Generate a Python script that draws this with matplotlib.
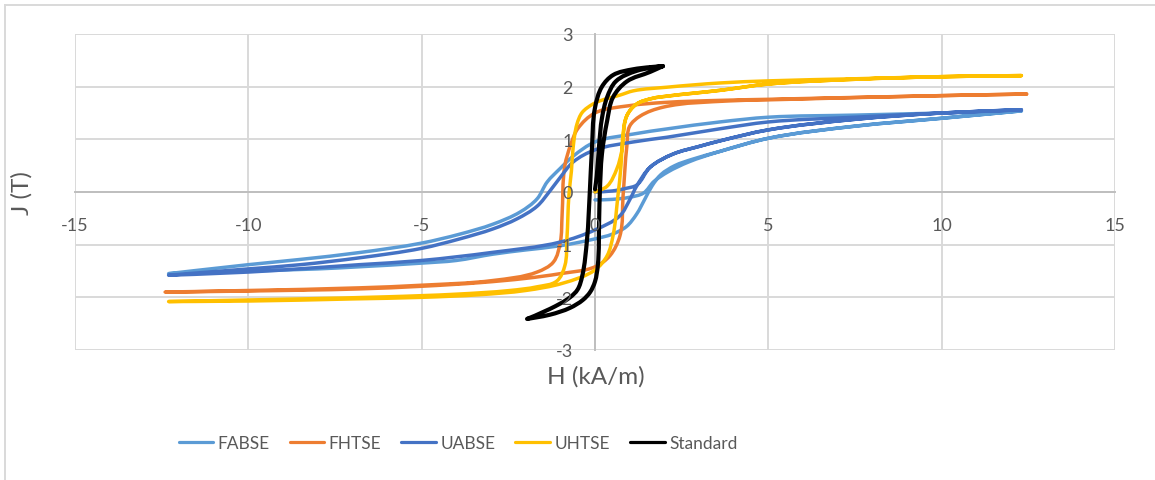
import numpy as np
import matplotlib
matplotlib.use('Agg')
import matplotlib.pyplot as plt
from matplotlib.lines import Line2D
from matplotlib.path import Path
from matplotlib.patches import PathPatch

# H (kA/m) and J (T), series traced as
# initial curve -> descending branch -> ascending branch
FABSE_H = [0.0, 0.5, 1.0, 1.4, 1.7, 2.1, 2.7, 3.6, 5.0, 7.5, 10.0, 12.3,
           10.0, 7.5, 5.0, 3.6, 2.1, 1.1, 0.0, -0.63, -1.0, -1.38, -1.67, -2.16, -2.94, -3.9, -5.0, -6.8, -8.5, -10.0, -12.3,
           -10.0, -8.0, -6.8, -5.0, -4.0, -2.94, -2.0, -1.0, 0.0, 0.5, 0.9, 1.2, 1.45, 1.65, 1.9, 2.3, 2.8, 3.6, 5.0, 7.5, 10.0, 12.3]
FABSE_J = [-0.15, -0.14, -0.10, -0.02, 0.20, 0.38, 0.57, 0.77, 1.02, 1.25, 1.40, 1.54,
           1.50, 1.46, 1.42, 1.33, 1.20, 1.10, 0.95, 0.68, 0.45, 0.19, -0.13, -0.38, -0.61, -0.80, -0.97, -1.15, -1.28, -1.38, -1.55,
           -1.50, -1.46, -1.42, -1.35, -1.30, -1.18, -1.10, -1.02, -0.89, -0.80, -0.66, -0.42, -0.12, 0.12, 0.33, 0.50, 0.62, 0.77, 1.02, 1.25, 1.40, 1.54]

FHTSE_H = [12.45, 10.0, 5.0, 3.6, 2.0, 1.0, 0.0, -0.5, -0.7, -0.87, -0.95, -1.0, -1.2, -1.67, -2.94, -5.0, -6.8, -10.0, -12.4,
           -10.0, -6.8, -5.0, -3.3, -2.0, -1.0, 0.0, 0.43, 0.72, 0.81, 0.92, 1.0, 1.3, 1.96, 3.89, 5.0, 10.0, 12.45]
FHTSE_J = [1.86, 1.83, 1.76, 1.74, 1.70, 1.64, 1.50, 1.20, 0.90, 0.50, -0.45, -0.95, -1.33, -1.52, -1.68, -1.77, -1.82, -1.87, -1.90,
           -1.88, -1.84, -1.79, -1.72, -1.64, -1.55, -1.42, -1.21, -0.83, -0.07, 0.88, 1.25, 1.44, 1.61, 1.73, 1.75, 1.83, 1.86]

UABSE_H = [0.0, 0.5, 0.9, 1.2, 1.59, 2.25, 3.03, 3.6, 5.0, 7.5, 10.0, 12.3,
           10.0, 7.5, 5.0, 3.6, 2.08, 1.1, 0.0, -0.63, -1.0, -1.3, -1.67, -2.25, -2.94, -3.9, -5.0, -6.8, -8.5, -10.0, -12.3,
           -10.0, -6.8, -5.0, -3.0, -1.0, 0.0, 0.72, 1.0, 1.2, 1.59, 2.25, 3.03, 3.6, 5.0, 7.5, 10.0, 12.3]
UABSE_J = [0.0, 0.02, 0.07, 0.13, 0.47, 0.72, 0.87, 0.97, 1.18, 1.38, 1.50, 1.56,
           1.50, 1.42, 1.33, 1.20, 1.04, 0.95, 0.80, 0.57, 0.28, 0.02, -0.27, -0.51, -0.70, -0.89, -1.07, -1.25, -1.38, -1.46, -1.58,
           -1.52, -1.38, -1.30, -1.15, -0.95, -0.72, -0.45, -0.15, 0.11, 0.47, 0.72, 0.87, 0.97, 1.18, 1.38, 1.50, 1.56]

UHTSE_H = [0.0, 0.35, 0.63, 0.78, 0.92, 1.2, 1.67, 2.08, 3.6, 5.0, 7.5, 10.0, 12.3,
           10.0, 7.5, 5.0, 3.6, 2.08, 1.1, 0.72, 0.14, -0.06, -0.37, -0.52, -0.63, -0.68, -0.75, -0.81, -0.87, -1.1, -1.67, -2.45, -4.0, -6.0, -8.5, -10.0, -12.3,
           -10.0, -7.0, -5.0, -3.32, -2.0, -0.92, 0.0, 0.35, 0.52, 0.66, 0.75, 0.8, 0.92, 1.2, 1.67, 2.08, 3.6, 5.0, 7.5, 10.0, 12.3]
UHTSE_J = [0.0, 0.11, 0.44, 0.80, 1.45, 1.67, 1.78, 1.82, 1.93, 2.05, 2.14, 2.19, 2.21,
           2.19, 2.15, 2.11, 2.07, 1.99, 1.92, 1.84, 1.73, 1.67, 1.51, 1.29, 0.85, 0.40, -0.04, -0.89, -1.40, -1.69, -1.80, -1.87, -1.94, -1.99, -2.03, -2.05, -2.08,
           -2.07, -2.03, -2.00, -1.95, -1.87, -1.73, -1.48, -1.21, -0.83, -0.08, 0.50, 1.04, 1.45, 1.67, 1.78, 1.82, 1.93, 2.05, 2.14, 2.19, 2.21]

STANDARD_H = [0.0, 0.05, 0.12, 0.2, 0.35, 0.6, 1.2, 1.96,
              1.1, 0.52, 0.2, 0.0, -0.09, -0.15, -0.23, -0.37, -0.5, -0.72, -1.3, -1.96,
              -1.3, -0.72, -0.35, -0.14, 0.0, 0.08, 0.12, 0.14, 0.2, 0.35, 0.52, 0.92, 1.59, 1.96]
STANDARD_J = [0.05, 0.3, 0.9, 1.4, 1.8, 2.1, 2.3, 2.39,
              2.33, 2.22, 2.0, 1.6, 0.8, 0.0, -0.9, -1.6, -1.85, -2.0, -2.22, -2.41,
              -2.33, -2.2, -2.05, -1.9, -1.7, -1.4, -0.5, 0.0, 0.72, 1.35, 1.8, 2.1, 2.28, 2.39]

SERIES = ['FABSE', 'FHTSE', 'UABSE', 'UHTSE', 'Standard']
COLORS = ['#5B9BD5', '#ED7D31', '#4472C4', '#FFC000', '#000000']
DATA = [(FABSE_H, FABSE_J), (FHTSE_H, FHTSE_J), (UABSE_H, UABSE_J),
        (UHTSE_H, UHTSE_J), (STANDARD_H, STANDARD_J)]

X_TICKS = [-15, -10, -5, 0, 5, 10, 15]
Y_TICKS = [-3, -2, -1, 0, 1, 2, 3]

GRID = '#D9D9D9'
AXIS = '#BFBFBF'
TEXT = '#595959'

# px per data unit, used only so the smoothing works in screen proportions
SX, SY = 1040 / 30, 316 / 6


def smooth_path(h, j):
    """Excel-style smoothed line: cubic Bezier segments through every point."""
    p = np.column_stack([np.asarray(h, float) * SX, np.asarray(j, float) * SY])
    n = len(p)
    seg = np.diff(p, axis=0)
    seg_len = np.hypot(seg[:, 0], seg[:, 1])
    unit = seg / seg_len[:, None]
    tang = np.zeros_like(p)
    tang[0], tang[-1] = unit[0], unit[-1]
    for i in range(1, n - 1):
        if np.dot(unit[i - 1], unit[i]) < -0.2:
            continue  # branch reversal: keep a sharp tip
        t = unit[i - 1] + unit[i]
        tang[i] = t / np.hypot(*t)
    verts = [p[0]]
    codes = [Path.MOVETO]
    for i in range(n - 1):
        d = seg_len[i] / 3
        verts += [p[i] + tang[i] * d, p[i + 1] - tang[i + 1] * d, p[i + 1]]
        codes += [Path.CURVE4] * 3
    verts = np.array(verts) / [SX, SY]
    return Path(verts, codes)


plt.rcParams['font.family'] = ['Lato', 'DejaVu Sans']
plt.rcParams['axes.unicode_minus'] = False

fig = plt.figure(figsize=(11.55, 4.81), dpi=100)
ax = fig.add_axes([75 / 1155, 1 - 351 / 481, 1040 / 1155, 316 / 481])

# gridlines drawn by hand so the tick labels can sit above the curves
for x in X_TICKS:
    ax.axvline(x, color=GRID, lw=1.4, zorder=0)
for y in Y_TICKS:
    ax.axhline(y, color=GRID, lw=1.4, zorder=0)

handles = []
for name, color, (h, j) in zip(SERIES, COLORS, DATA):
    lw = 3.0 if name == 'Standard' else 2.5
    ax.add_patch(PathPatch(smooth_path(h, j), fill=False, edgecolor=color, lw=lw,
                           capstyle='round', joinstyle='round', zorder=3))
    handles.append(Line2D([], [], color=color, lw=2.3, solid_capstyle='round', label=name))

ax.set_xlim(-15, 15)
ax.set_ylim(-3, 3)
ax.set_xticks(X_TICKS)
ax.set_yticks(Y_TICKS)
ax.xaxis.set_zorder(4)
ax.yaxis.set_zorder(4)

for side in ('top', 'right'):
    ax.spines[side].set_visible(False)
ax.spines['left'].set_position(('data', 0))
ax.spines['bottom'].set_position(('data', 0))
for side in ('left', 'bottom'):
    ax.spines[side].set_color(AXIS)
    ax.spines[side].set_linewidth(1.4)
    ax.spines[side].set_zorder(1)

ax.tick_params(axis='x', length=0, pad=18, labelsize=13, labelcolor=TEXT)
ax.tick_params(axis='y', length=0, pad=16, labelsize=13, labelcolor=TEXT)

fig.text(596 / 1155, 1 - 377 / 481, 'H (kA/m)', ha='center', va='center',
         fontsize=17.5, color=TEXT)
fig.text(22 / 1155, 1 - 193 / 481, 'J (T)', ha='center', va='center',
         rotation=90, fontsize=17.5, color=TEXT)

fig.legend(handles=handles, loc='center', bbox_to_anchor=(458 / 1155, 1 - 444 / 481),
           ncol=5, frameon=False, fontsize=12.5, handlelength=2.0, handletextpad=0.25,
           columnspacing=1.15, labelcolor=TEXT)

# chart-area border (only top and left edges fall inside the picture)
fig.add_artist(Line2D([5 / 1155, 5 / 1155], [0, 1 - 6 / 481], color=GRID, lw=1.4))
fig.add_artist(Line2D([5 / 1155, 1], [1 - 6 / 481, 1 - 6 / 481], color=GRID, lw=1.4))

fig.savefig('out.png', dpi=100, facecolor='white')
